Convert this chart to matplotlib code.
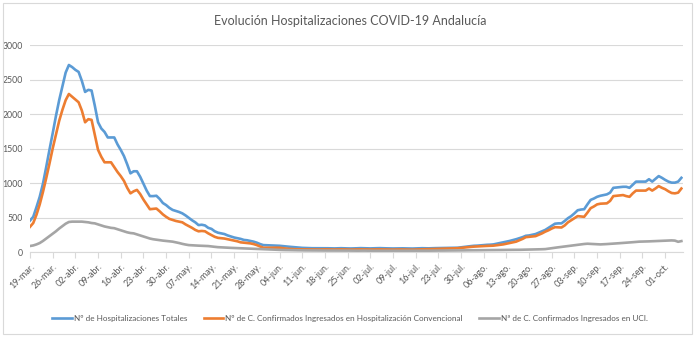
import numpy as np
import matplotlib.pyplot as plt
from matplotlib.patches import Rectangle

plt.rcParams['font.family'] = ['Lato', 'DejaVu Sans']

# Datos diarios desde el 19-mar. (índice 0)
hosp_totales = [
    455, 510, 650, 800, 990, 1230, 1480, 1720, 1970, 2200,
    2400, 2600, 2710, 2680, 2640, 2610, 2480, 2320, 2350, 2340,
    2120, 1880, 1790, 1740, 1660, 1660, 1660, 1560, 1480, 1390,
    1270, 1140, 1170, 1170, 1090, 990, 890, 810, 810, 815,
    770, 710, 680, 640, 610, 595, 580, 560, 530, 495,
    460, 430, 390, 395, 385, 350, 335, 300, 280, 270,
    260, 240, 225, 210, 200, 190, 175, 170, 160, 150,
    135, 115, 100, 98, 96, 94, 92, 90, 85, 80,
    76, 72, 68, 64, 60, 58, 56, 55, 55, 54,
    55, 56, 54, 53, 52, 54, 55, 53, 52, 51,
    52, 54, 56, 55, 53, 52, 54, 55, 56, 54,
    53, 52, 51, 52, 54, 53, 52, 51, 50, 52,
    53, 55, 54, 53, 55, 56, 57, 58, 58, 59,
    60, 61, 62, 68, 75, 80, 85, 90, 92, 96,
    100, 104, 106, 110, 120, 130, 140, 150, 160, 172,
    185, 200, 215, 235, 240, 250, 260, 280, 300, 320,
    350, 380, 410, 415, 415, 450, 490, 520, 560, 605,
    615, 620, 690, 755, 775, 800, 815, 825, 835, 860,
    930, 935, 940, 945, 945, 930, 975, 1020, 1020, 1020,
    1020, 1055, 1020, 1060, 1100, 1075, 1045, 1020, 1005, 1005,
    1020, 1075,
]

hosp_convencional = [
    365, 420, 540, 690, 870, 1070, 1280, 1500, 1700, 1900,
    2060, 2200, 2290, 2250, 2210, 2170, 2050, 1880, 1925, 1915,
    1700, 1480, 1380, 1300, 1300, 1300, 1230, 1160, 1100, 1030,
    930, 850, 880, 900, 840, 760, 690, 620, 625, 630,
    590, 545, 510, 480, 465, 450, 440, 430, 400, 375,
    350, 320, 300, 305, 300, 270, 245, 220, 205, 200,
    195, 185, 175, 165, 155, 140, 135, 130, 125, 115,
    100, 80, 62, 62, 62, 62, 62, 62, 55, 50,
    45, 42, 40, 40, 38, 38, 37, 37, 36, 36,
    37, 38, 37, 36, 36, 37, 38, 37, 36, 35,
    36, 37, 38, 37, 36, 36, 37, 38, 38, 37,
    36, 35, 35, 36, 37, 36, 35, 35, 34, 36,
    37, 39, 40, 41, 42, 44, 46, 48, 49, 50,
    52, 53, 55, 60, 65, 70, 74, 78, 80, 83,
    86, 88, 90, 92, 98, 105, 110, 120, 130, 140,
    150, 170, 190, 215, 220, 225, 230, 250, 270, 295,
    315, 340, 360, 358, 355, 385, 430, 460, 490, 520,
    515, 510, 570, 635, 660, 690, 700, 703, 705, 740,
    810, 815, 820, 825, 810, 800, 850, 890, 890, 890,
    890, 920, 890, 920, 955, 930, 910, 880, 855, 850,
    860, 920,
]

hosp_uci = [
    87, 95, 110, 130, 160, 195, 230, 265, 300, 340,
    375, 410, 435, 440, 440, 440, 440, 435, 430, 420,
    415, 400, 385, 370, 360, 350, 345, 330, 315, 300,
    285, 275, 270, 255, 240, 225, 210, 195, 185, 178,
    170, 165, 160, 155, 150, 140, 130, 118, 108, 100,
    97, 94, 92, 90, 88, 86, 80, 75, 70, 68,
    65, 62, 60, 58, 56, 54, 52, 50, 48, 46,
    44, 42, 40, 38, 36, 34, 32, 30, 29, 28,
    27, 26, 25, 24, 24, 23, 23, 22, 22, 22,
    21, 21, 21, 20, 20, 20, 21, 21, 20, 20,
    19, 19, 20, 20, 19, 19, 18, 18, 19, 19,
    18, 18, 17, 17, 18, 18, 17, 17, 17, 18,
    18, 18, 19, 19, 20, 20, 20, 21, 21, 22,
    22, 22, 23, 23, 24, 24, 25, 25, 26, 26,
    27, 27, 28, 28, 29, 29, 30, 30, 31, 31,
    32, 32, 33, 34, 35, 36, 37, 38, 40, 42,
    48, 55, 62, 68, 74, 80, 86, 92, 98, 104,
    110, 116, 120, 118, 115, 112, 110, 112, 115, 118,
    120, 124, 128, 132, 135, 138, 142, 146, 150, 151,
    152, 154, 156, 158, 160, 162, 163, 165, 168, 165,
    148, 158,
]

etiquetas_fecha = [
    '19-mar.', '26-mar.', '02-abr.', '09-abr.', '16-abr.', '23-abr.',
    '30-abr.', '07-may.', '14-may.', '21-may.', '28-may.', '04-jun.',
    '11-jun.', '18-jun.', '25-jun.', '02-jul.', '09-jul.', '16-jul.',
    '23-jul.', '30-jul.', '06-ago.', '13-ago.', '20-ago.', '27-ago.',
    '03-sep.', '10-sep.', '17-sep.', '24-sep.', '01-oct.',
]

nombres = [
    'Nº de Hospitalizaciones Totales',
    'Nº de C. Confirmados Ingresados en Hospitalización Convencional',
    'Nª de C. Confirmados Ingresados en UCI.',
]
colores = ['#5B9BD5', '#ED7D31', '#A5A5A5']

gris_texto = '#595959'
gris_linea = '#D9D9D9'

dias = np.arange(len(hosp_totales))

fig = plt.figure(figsize=(7, 3.39), dpi=100)
ax = fig.add_axes([30 / 700, 1 - 252 / 339, 653 / 700, 207 / 339])

for serie, nombre, color in zip([hosp_totales, hosp_convencional, hosp_uci], nombres, colores):
    ax.plot(dias, serie, color=color, lw=1.9, label=nombre, solid_joinstyle='round')

ax.set_xlim(0, 201.5)
ax.set_ylim(0, 3000)
ax.set_yticks(np.arange(0, 3001, 500))
ax.set_xticks(np.arange(len(etiquetas_fecha)) * 7)
ax.set_xticklabels(etiquetas_fecha, rotation=45, ha='right', va='top',
                   rotation_mode='anchor')

ax.grid(axis='y', color=gris_linea, lw=0.8)
ax.set_axisbelow(True)
for lado in ['left', 'right', 'top']:
    ax.spines[lado].set_visible(False)
ax.spines['bottom'].set_color(gris_linea)
ax.spines['bottom'].set_linewidth(0.8)
ax.tick_params(axis='x', length=4, color=gris_linea, labelsize=6.5,
               labelcolor=gris_texto, pad=3)
ax.tick_params(axis='y', length=0, labelsize=6.3, labelcolor=gris_texto, pad=5)

fig.text(0.5, 1 - 21 / 339, 'Evolución Hospitalizaciones COVID-19 Andalucía',
         ha='center', va='center', fontsize=9.0, color=gris_texto)

leg = fig.legend(loc='center', bbox_to_anchor=(0.5, 1 - 318 / 339), ncol=3,
                 frameon=False, fontsize=5.9, handlelength=2.4,
                 columnspacing=2.0, handletextpad=0.25)
for texto in leg.get_texts():
    texto.set_color(gris_texto)

# marco exterior del gráfico
fig.patches.append(Rectangle((3 / 700, 5 / 339), 689 / 700, 331 / 339,
                             transform=fig.transFigure, fill=False,
                             edgecolor=gris_linea, lw=0.8))

fig.savefig('out.png', dpi=100)
